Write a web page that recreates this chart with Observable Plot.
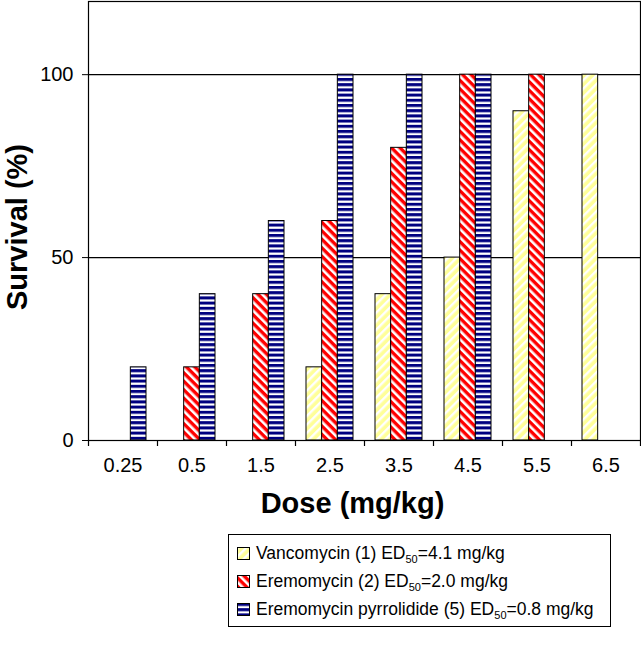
<!DOCTYPE html>
<html>
<head>
<meta charset="utf-8">
<script src="https://cdn.jsdelivr.net/npm/d3@7"></script>
<script src="https://cdn.jsdelivr.net/npm/@observablehq/plot@0.6"></script>
<style>
  html, body { margin: 0; padding: 0; background: #fff; }
  body { width: 641px; height: 650px; font-family: "Liberation Sans", Arial, sans-serif; position: relative; }
  #legend { position: absolute; left: 228px; top: 534px; width: 383px; height: 93px; border: 1px solid #000; box-sizing: border-box; font-size: 17.5px; color: #000; }
  .row { position: absolute; left: 8px; height: 20px; display: flex; align-items: center; white-space: nowrap; }
  .row svg { margin-right: 6px; flex: none; }
  sub { font-size: 11px; vertical-align: -4px; line-height: 0; }
</style>
</head>
<body>
<svg width="0" height="0" style="position:absolute">
  <defs>
    <pattern id="pYellow" patternUnits="userSpaceOnUse" width="6" height="6" patternTransform="rotate(45)">
      <rect width="6" height="6" fill="#ffff99"></rect>
      <rect width="2.4" height="6" fill="#ffffff"></rect>
    </pattern>
    <pattern id="pRed" patternUnits="userSpaceOnUse" width="6" height="6" patternTransform="rotate(-45)">
      <rect width="6" height="6" fill="#ff0000"></rect>
      <rect width="2.6" height="6" fill="#ffffff"></rect>
    </pattern>
    <pattern id="pBlue" patternUnits="userSpaceOnUse" width="6" height="5.2">
      <rect width="6" height="5.2" fill="#000080"></rect>
      <rect y="3" width="6" height="2.2" fill="#ffffff"></rect>
    </pattern>
  </defs>
</svg>
<div id="chart"></div>
<div id="legend"></div>
<script>
const doses = ["0.25", "0.5", "1.5", "2.5", "3.5", "4.5", "5.5", "6.5"];
const seriesNames = ["Vancomycin (1)", "Eremomycin (2)", "Eremomycin pyrrolidide (5)"];
const ed50 = ["4.1", "2.0", "0.8"];
const vancomycin = [0, 0, 0, 20, 40, 50, 90, 100];
const eremomycin = [0, 20, 40, 60, 80, 100, 100, 0];
const pyrrolidide = [20, 40, 60, 100, 100, 100, 0, 0];
const yTicks = [0, 50, 100];
const fills = ["url(#pYellow)", "url(#pRed)", "url(#pBlue)"];

const seriesValues = [vancomycin, eremomycin, pyrrolidide];

const width = 641, marginLeft = 88, marginRight = 1;
const band = (width - marginLeft - marginRight) / doses.length;
const groupPad = 11;
const barW = (band - 2 * groupPad) / seriesNames.length;

const barMarks = seriesValues.map((vals, j) => {
  const rows = doses.map((d, i) => ({dose: d, value: vals[i], series: seriesNames[j]})).filter(r => r.value > 0);
  return Plot.barY(rows, {
    x: "dose", y: "value", fill: "series", stroke: "#000", strokeWidth: 1,
    insetLeft: groupPad + barW * j,
    insetRight: band - groupPad - barW * (j + 1)
  });
});

const chart = Plot.plot({
  width, height: 520,
  marginLeft, marginRight, marginTop: 1, marginBottom: 80,
  style: {fontFamily: "'Liberation Sans', Arial, sans-serif", color: "#000", background: "#fff"},
  x: {domain: doses, padding: 0, label: null},
  y: {domain: [0, 120], label: null},
  color: {domain: seriesNames, range: fills},
  marks: [
    Plot.ruleY(yTicks.filter(t => t > 0), {stroke: "#000", strokeWidth: 1.2}),
    ...barMarks,
    Plot.frame({stroke: "#000", strokeWidth: 1.2}),
    Plot.axisY({ticks: yTicks, tickSize: 6, tickPadding: 9, fontSize: 20, label: null, stroke: "#000"}),
    Plot.axisX({tickSize: 6, tickFormat: () => "", dx: -band / 2, label: null, stroke: "#000", strokeWidth: 1.2}),
    Plot.axisX({ticks: doses.slice(-1), tickSize: 6, tickFormat: () => "", dx: band / 2, label: null, stroke: "#000", strokeWidth: 1.2}),
    Plot.axisX({tickSize: 0, tickPadding: 17, fontSize: 20, label: null}),
    Plot.text(["Dose (mg/kg)"], {text: d => d, frameAnchor: "bottom", dy: 72, dx: -12, fontSize: 29, fontWeight: "bold"}),
    Plot.text(["Survival (%)"], {text: d => d, frameAnchor: "left", textAnchor: "middle", dx: -71, dy: 6, rotate: -90, fontSize: 29, fontWeight: "bold"})
  ]
});
document.getElementById("chart").appendChild(chart);

const legend = document.getElementById("legend");
const rowTops = [8, 36, 64];
seriesNames.forEach((name, j) => {
  const row = document.createElement("div");
  row.className = "row";
  row.style.top = rowTops[j] + "px";
  row.innerHTML = `<svg width="13" height="13"><rect x="0.5" y="0.5" width="12" height="12" fill="${fills[j]}" stroke="#000"></rect></svg>` +
    `<span>${name} ED<sub>50</sub>=${ed50[j]} mg/kg</span>`;
  legend.appendChild(row);
});
</script>
</body>
</html>
